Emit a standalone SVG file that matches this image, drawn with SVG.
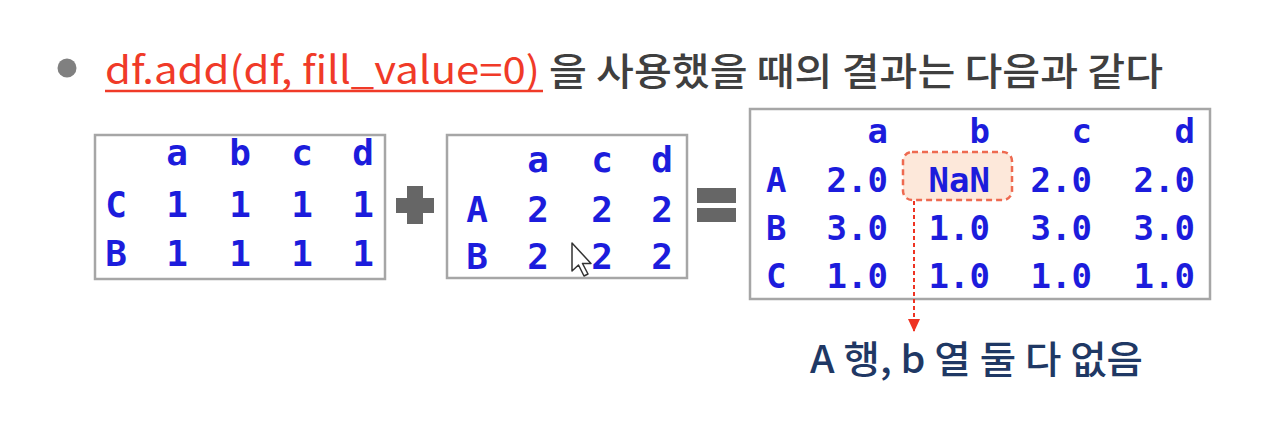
<svg xmlns="http://www.w3.org/2000/svg" width="1280" height="428" viewBox="0 0 1280 428">
<style>
.box{fill:#ffffff;stroke:#a6a6a6;stroke-width:2.5}
.t{font-family:"DejaVu Sans Mono","Liberation Mono",monospace;font-weight:bold;font-size:34px;fill:#1c1cdc}
.s{font-size:36px}
.m{text-anchor:middle}
.e{text-anchor:end}
.op{fill:#666666}
</style>
<defs>
<marker id="ah" markerWidth="14" markerHeight="14" refX="12" refY="7" orient="auto" markerUnits="userSpaceOnUse" viewBox="0 0 14 14">
<path d="M0,1 L13,7 L0,13 Z" fill="#ee3322"/>
</marker>
</defs>
<rect width="1280" height="428" fill="#ffffff"/>
<g id="title">
<circle cx="67" cy="68" r="9.5" fill="#808080"/>
<text x="105" y="84" font-family="'Noto Sans CJK KR','Noto Sans',sans-serif" font-size="38" fill="#f03a28" textLength="435" lengthAdjust="spacingAndGlyphs">df.add(df, fill_value=0)</text>
<line x1="105" y1="91" x2="543" y2="91" stroke="#f03a28" stroke-width="2.5"/>
<text x="549" y="85" font-family="'Noto Sans CJK KR',sans-serif" font-size="38" font-weight="500" fill="#3f3f3f" textLength="614" lengthAdjust="spacingAndGlyphs">을 사용했을 때의 결과는 다음과 같다</text>
</g>
<g id="df1">
<rect class="box" x="95" y="135" width="290" height="144"/>
<text class="t s m" x="177" y="165">a</text>
<text class="t s m" x="240" y="165">b</text>
<text class="t s m" x="302" y="165">c</text>
<text class="t s m" x="363" y="165">d</text>
<text class="t s m" x="116" y="217">C</text>
<text class="t s m" x="177" y="217">1</text>
<text class="t s m" x="240" y="217">1</text>
<text class="t s m" x="302" y="217">1</text>
<text class="t s m" x="363" y="217">1</text>
<text class="t s m" x="116" y="266">B</text>
<text class="t s m" x="177" y="266">1</text>
<text class="t s m" x="240" y="266">1</text>
<text class="t s m" x="302" y="266">1</text>
<text class="t s m" x="363" y="266">1</text>
</g>
<g id="plus">
<rect class="op" x="396" y="198" width="38" height="15"/>
<rect class="op" x="407" y="186" width="16" height="38"/>
</g>
<g id="df2">
<rect class="box" x="447" y="135" width="240" height="143"/>
<text class="t s m" x="538" y="172">a</text>
<text class="t s m" x="602" y="172">c</text>
<text class="t s m" x="662" y="172">d</text>
<text class="t s m" x="477" y="222">A</text>
<text class="t s m" x="538" y="222">2</text>
<text class="t s m" x="602" y="222">2</text>
<text class="t s m" x="662" y="222">2</text>
<text class="t s m" x="477" y="269">B</text>
<text class="t s m" x="538" y="269">2</text>
<text class="t s m" x="602" y="269">2</text>
<text class="t s m" x="662" y="269">2</text>
</g>
<g id="equals">
<rect class="op" x="697" y="188" width="39" height="15"/>
<rect class="op" x="697" y="208" width="39" height="14"/>
</g>
<g id="result">
<rect class="box" x="750" y="109" width="460" height="190"/>
<rect x="903" y="152" width="109" height="48" rx="9" fill="#fde8da" stroke="#ee6a50" stroke-width="2.5" stroke-dasharray="6,4"/>
<text class="t e" x="888" y="143">a</text>
<text class="t e" x="990" y="143">b</text>
<text class="t e" x="1092" y="143">c</text>
<text class="t e" x="1195" y="143">d</text>
<text class="t" x="766" y="192">A</text>
<text class="t e" x="888" y="192">2.0</text>
<text class="t e" x="990" y="192" fill="#4646cc">NaN</text>
<text class="t e" x="1092" y="192">2.0</text>
<text class="t e" x="1195" y="192">2.0</text>
<text class="t" x="766" y="240">B</text>
<text class="t e" x="888" y="240">3.0</text>
<text class="t e" x="990" y="240">1.0</text>
<text class="t e" x="1092" y="240">3.0</text>
<text class="t e" x="1195" y="240">3.0</text>
<text class="t" x="766" y="288">C</text>
<text class="t e" x="888" y="288">1.0</text>
<text class="t e" x="990" y="288">1.0</text>
<text class="t e" x="1092" y="288">1.0</text>
<text class="t e" x="1195" y="288">1.0</text>
</g>
<g id="connectors">
<line x1="914" y1="201" x2="914" y2="331" stroke="#ee3322" stroke-width="2" stroke-dasharray="4,3" marker-end="url(#ah)"/>
</g>
<g id="note">
<text x="810" y="373" font-family="'Noto Sans CJK KR',sans-serif" font-size="38" font-weight="500" fill="#1f3864" textLength="333" lengthAdjust="spacingAndGlyphs">A 행, b 열 둘 다 없음</text>
</g>
<g id="cursor">
<path d="M572,243 L572,271 L578.5,265 L584,276 L588,274 L582.5,263.5 L591,263.5 Z" fill="#ffffff" stroke="#333333" stroke-width="1.5" stroke-linejoin="round"/>
</g>
</svg>
